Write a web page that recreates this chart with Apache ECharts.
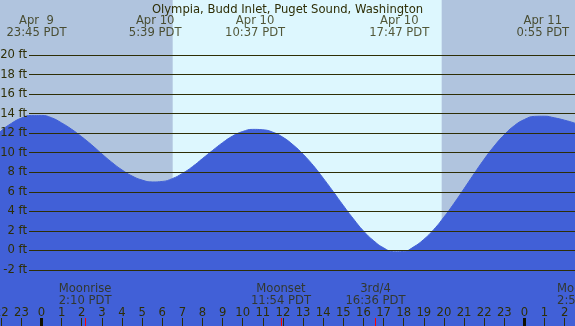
<!DOCTYPE html>
<html>
<head>
<meta charset="utf-8">
<script src="https://cdn.jsdelivr.net/npm/echarts@6/dist/echarts.min.js"></script>
<style>
  html, body { margin: 0; padding: 0; background: #b0c4de; }
  #main { width: 575px; height: 326px; }
</style>
</head>
<body>
<div id="main"></div>
<script>
// time in hours from Apr 10 00:00 PDT
var hours = [-2.5, -2, -1.5, -1, -0.5, 0, 0.5, 1, 1.5, 2, 2.5, 3, 3.5, 4, 4.5, 5, 5.5,
  6, 6.5, 7, 7.5, 8, 8.5, 9, 9.5, 10, 10.5, 11, 11.5, 12, 12.5, 13, 13.5, 14, 14.5,
  15, 15.5, 16, 16.5, 17, 17.5, 18, 18.5, 19, 19.5, 20, 20.5, 21, 21.5, 22, 22.5,
  23, 23.5, 24, 24.5, 25, 25.5, 26, 26.5, 27];
var heights = [11.3, 12.3, 13.05, 13.6, 13.87, 13.87, 13.63, 13.1, 12.45, 11.68, 10.84,
  9.93, 9.06, 8.29, 7.67, 7.25, 7.06, 7.11, 7.4, 7.93, 8.62, 9.45, 10.28, 11.08, 11.76,
  12.22, 12.44, 12.4, 12.15, 11.63, 10.86, 9.9, 8.76, 7.45, 6.07, 4.65, 3.29, 2.05,
  1.06, 0.32, -0.08, -0.05, 0.42, 1.18, 2.2, 3.46, 4.86, 6.37, 7.9, 9.38, 10.73, 11.89,
  12.82, 13.45, 13.77, 13.79, 13.62, 13.38, 13.08, 12.7];

var tideTimes = [-0.25, 5.65, 10.617, 17.783, 24.917];
var tideDates = ["Apr  9", "Apr 10", "Apr 10", "Apr 10", "Apr 11"];
var tideClock = ["23:45 PDT", "5:39 PDT", "10:37 PDT", "17:47 PDT", "0:55 PDT"];

var moonTimes = [2.167, 11.9, 16.6, 26.933];
var moonNames = ["Moonrise", "Moonset", "3rd/4", "Moonrise"];
var moonClock = ["2:10 PDT", "11:54 PDT", "16:36 PDT", "2:56 PDT"];

var sunrise = 6.52;
var sunset = 19.89;
var hourTicks = [-2, -1, 0, 1, 2, 3, 4, 5, 6, 7, 8, 9, 10, 11, 12, 13, 14, 15, 16, 17,
  18, 19, 20, 21, 22, 23, 24, 25, 26];
var midnights = [0, 24];

var X_MIN = -2.063, X_MAX = 26.516;
var Y_MIN = -7.68, Y_MAX = 25.68;
var TOP_LABEL_FT = 22.88, MOON_LABEL_FT = -4.5;

var ink = "#2e2e06";
var font = "DejaVu Sans";
var fs = 11.6;

var tideData = hours.map(function (h, i) { return [h, heights[i]]; });

function timeAxis(grid, extra) {
  var ax = {
    type: "value", gridIndex: grid, min: X_MIN, max: X_MAX, z: 10,
    axisLine: { show: false, onZero: false }, splitLine: { show: false },
    axisLabel: { show: false }, axisTick: { show: false }
  };
  return Object.assign(ax, extra);
}
function hiddenY(grid) {
  return { type: "value", gridIndex: grid, min: Y_MIN, max: Y_MAX, show: false };
}
function fullGrid() {
  return { left: 0, right: 0, top: 0, bottom: 0, outerBoundsMode: "none", containLabel: false };
}

var chart = echarts.init(document.getElementById("main"));
chart.setOption({
  animation: false,
  backgroundColor: "#b0c4de",
  title: {
    text: "Olympia, Budd Inlet, Puget Sound, Washington",
    left: "center", top: -1,
    textStyle: { fontFamily: font, fontSize: fs, fontWeight: "normal", color: ink }
  },
  grid: [
    fullGrid(),
    { left: 29, right: 0, top: 55, height: 215, outerBoundsMode: "none", containLabel: false },
    fullGrid(),
    fullGrid()
  ],
  xAxis: [
    timeAxis(0, {
      axisTick: { show: true, inside: true, length: 8, customValues: hourTicks,
        lineStyle: { color: ink, width: 1 } },
      axisLabel: { show: true, inside: true, margin: 7, customValues: hourTicks,
        color: ink, fontFamily: font, fontSize: fs,
        formatter: function (v) { return String(((v % 24) + 24) % 24); } }
    }),
    { type: "value", gridIndex: 1, min: 0, max: 1, show: false },
    timeAxis(2, {
      axisTick: { show: true, inside: true, length: 8, customValues: midnights,
        lineStyle: { color: "#111100", width: 3 } }
    }),
    timeAxis(3, {
      axisTick: { show: true, inside: true, length: 8, customValues: moonTimes,
        lineStyle: { color: "#ff0000", width: 1 } }
    })
  ],
  yAxis: [
    hiddenY(0),
    {
      type: "value", gridIndex: 1, min: -2, max: 20, interval: 2, z: 10,
      axisLine: { show: false }, axisTick: { show: false },
      splitLine: { show: true, lineStyle: { color: ink, width: 1 } },
      axisLabel: { margin: 2, color: ink, fontFamily: font, fontSize: fs,
        formatter: "{value} ft" }
    },
    hiddenY(2),
    hiddenY(3)
  ],
  series: [
    {
      type: "line", xAxisIndex: 0, yAxisIndex: 0, z: 2,
      data: tideData, smooth: true, symbol: "none", silent: true,
      lineStyle: { color: "#4160d7", width: 1 },
      areaStyle: { color: "#4160d7", opacity: 1, origin: "start" },
      markArea: {
        silent: true, z: 1,
        itemStyle: { color: "#ddf7fe", opacity: 1 },
        data: [[{ xAxis: sunrise }, { xAxis: sunset }]]
      }
    },
    {
      type: "scatter", xAxisIndex: 0, yAxisIndex: 0, z: 12, clip: false, silent: true,
      symbolSize: 1, itemStyle: { color: "transparent" },
      data: tideTimes.map(function (t) { return [t, TOP_LABEL_FT]; }),
      label: {
        show: true, position: "inside", color: ink, fontFamily: font, fontSize: fs,
        lineHeight: 12,
        formatter: function (p) { return tideDates[p.dataIndex] + "\n" + tideClock[p.dataIndex]; }
      }
    },
    {
      type: "scatter", xAxisIndex: 0, yAxisIndex: 0, z: 12, clip: false, silent: true,
      symbolSize: 1, itemStyle: { color: "transparent" },
      data: moonTimes.map(function (t) { return [t, MOON_LABEL_FT]; }),
      label: {
        show: true, position: "inside", color: ink, fontFamily: font, fontSize: fs,
        lineHeight: 12,
        formatter: function (p) { return moonNames[p.dataIndex] + "\n" + moonClock[p.dataIndex]; }
      }
    }
  ]
});
</script>
</body>
</html>
